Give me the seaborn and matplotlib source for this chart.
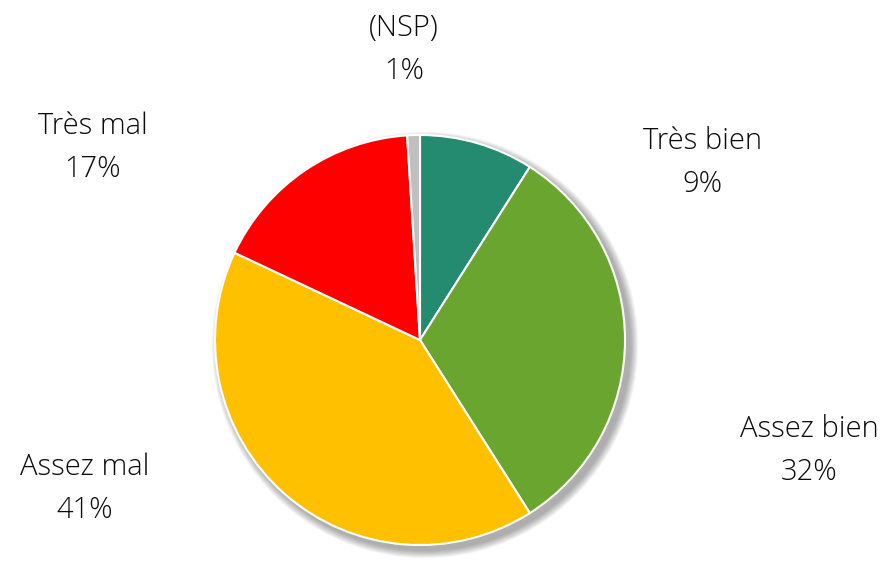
import matplotlib.pyplot as plt
import matplotlib.patches as mpatches
import seaborn as sns

# data
labels = ['Très bien', 'Assez bien', 'Assez mal', 'Très mal', '(NSP)']
values = [9, 32, 41, 17, 1]
colors = ['#258B70', '#6AA530', '#FFC000', '#FF0000', '#BFBFBF']

# label positions (data units, pie radius = 1)
label_pos = [(1.376, 0.863), (1.898, -0.540), (-1.634, -0.728), (-1.595, 0.936), (-0.078, 1.414)]

sns.set_theme(style='white')
plt.rcParams['font.family'] = ['Open Sans', 'DejaVu Sans']

fig = plt.figure(figsize=(8.84, 5.61), dpi=100)
ax = fig.add_axes([0, 0, 1, 1])

# soft drop shadow
off = 5 / 205
for i in range(10):
    r = 1.0 + (10 - i) * 0.004
    ax.add_patch(mpatches.Circle((off, -off), r, color='black', alpha=0.035, lw=0, zorder=0))

ax.pie(values, colors=colors, startangle=90, counterclock=False,
       radius=1, center=(0, 0),
       wedgeprops=dict(edgecolor='white', linewidth=1.5), frame=True)

for lab, v, (x, y) in zip(labels, values, label_pos):
    ax.text(x, y, f'{lab}\n{v}%', ha='center', va='center', fontsize=21,
            fontweight='light', color='#0a0a0a', linespacing=1.6)

ax.set_xlim(-420 / 205, 464 / 205)
ax.set_ylim(-221 / 205, 340 / 205)
ax.set_aspect('equal')
ax.axis('off')

fig.savefig('out.png', dpi=100)
